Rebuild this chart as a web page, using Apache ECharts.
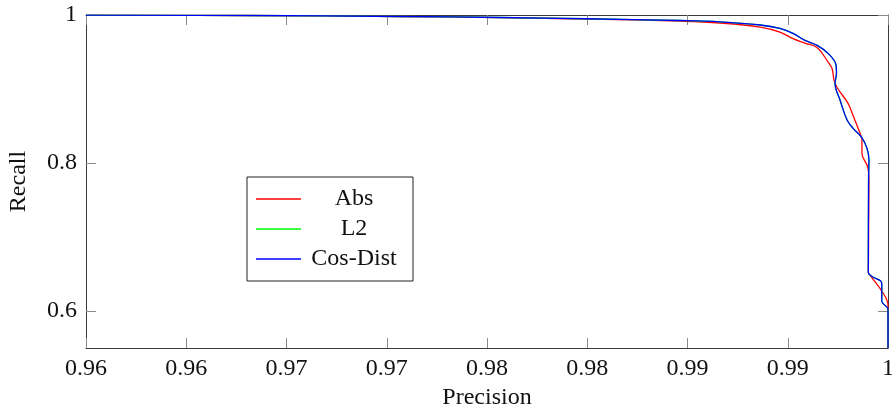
<!DOCTYPE html>
<html>
<head>
<meta charset="utf-8">
<script src="https://cdn.jsdelivr.net/npm/echarts@6/dist/echarts.min.js"></script>
<style>
  html, body { margin: 0; padding: 0; background: #fff; }
  #chart { width: 892px; height: 410px; }
</style>
</head>
<body>
<div id="chart"></div>
<script>
// Precision / recall curves for three distance measures
const seriesNames = ['Abs', 'L2', 'Cos-Dist'];
const seriesColors = ['#ff0000', '#00ff00', '#0000ff'];

const absPrecision = [0.96, 0.96818, 0.97566, 0.98065, 0.98499, 0.98963, 0.99162, 0.99362, 0.99461, 0.99526, 0.99586, 0.99646, 0.99701, 0.99721, 0.99731, 0.99746, 0.99800, 0.99825, 0.99860, 0.99870, 0.99870, 0.99900, 0.99905, 0.99902, 0.99907, 0.99969, 1.0, 1.0];
const absRecall    = [0.9998, 0.9993, 0.9980, 0.9965, 0.9945, 0.9917, 0.9892, 0.9836, 0.9768, 0.9680, 0.9620, 0.9560, 0.9365, 0.9276, 0.9118, 0.9020, 0.8809, 0.8648, 0.8405, 0.8311, 0.8136, 0.7934, 0.7773, 0.6521, 0.6494, 0.6269, 0.6077, 0.55];

const l2Precision  = [0.96, 0.96818, 0.97566, 0.98065, 0.98499, 0.98963, 0.99162, 0.99362, 0.99461, 0.99526, 0.99586, 0.99646, 0.99701, 0.99741, 0.99743, 0.99736, 0.99761, 0.99796, 0.99825, 0.99870, 0.99895, 0.99905, 0.99903, 0.99902, 0.99920, 0.99969, 0.99969, 1.0, 1.0];
const l2Recall     = [0.9998, 0.9993, 0.9980, 0.9966, 0.9949, 0.9926, 0.9908, 0.9865, 0.9818, 0.9751, 0.9657, 0.9589, 0.9482, 0.9320, 0.9213, 0.9078, 0.8849, 0.8580, 0.8472, 0.8339, 0.8201, 0.8042, 0.7773, 0.6521, 0.6467, 0.6373, 0.6131, 0.6023, 0.55];

const cosPrecision = [0.96, 0.96818, 0.97566, 0.98065, 0.98499, 0.98963, 0.99162, 0.99362, 0.99461, 0.99526, 0.99586, 0.99646, 0.99701, 0.99741, 0.99743, 0.99736, 0.99761, 0.99796, 0.99825, 0.99870, 0.99895, 0.99905, 0.99903, 0.99902, 0.99920, 0.99969, 0.99969, 1.0, 1.0];
const cosRecall    = [0.9998, 0.9993, 0.9980, 0.9966, 0.9949, 0.9926, 0.9908, 0.9865, 0.9818, 0.9751, 0.9657, 0.9589, 0.9482, 0.9320, 0.9213, 0.9078, 0.8849, 0.8580, 0.8472, 0.8339, 0.8201, 0.8042, 0.7773, 0.6521, 0.6467, 0.6373, 0.6131, 0.6023, 0.55];

const xTickValues = [0.96, 0.965, 0.97, 0.975, 0.98, 0.985, 0.99, 0.995, 1.0];
const xTickLabels = ['0.96', '0.96', '0.97', '0.97', '0.98', '0.98', '0.99', '0.99', '1'];
const yTickValues = [0.6, 0.8, 1.0];
const yTickLabels = ['0.6', '0.8', '1'];

const FONT = 'Liberation Serif';
const FRAME = '#3a3a3a';
const TICK = '#8a8a8a';

function pairs(xs, ys) {
  return xs.map((x, i) => [x, ys[i]]);
}
function labelFor(values, labels) {
  return function (v) {
    let best = 0;
    for (let i = 1; i < values.length; i++) {
      if (Math.abs(values[i] - v) < Math.abs(values[best] - v)) best = i;
    }
    return labels[best];
  };
}

const curveData = [
  pairs(absPrecision, absRecall),
  pairs(l2Precision, l2Recall),
  pairs(cosPrecision, cosRecall)
];

function xAxisDef(position, showLabels) {
  return {
    type: 'value', position: position, min: 0.96, max: 1,
    name: showLabels ? 'Precision' : '',
    nameLocation: 'middle', nameGap: 38,
    nameTextStyle: { fontFamily: FONT, fontSize: 24, color: '#111' },
    axisLine: { show: true, onZero: false, lineStyle: { color: FRAME, width: 1 } },
    axisTick: { show: true, inside: true, length: 10, customValues: xTickValues, lineStyle: { color: TICK, width: 1 } },
    axisLabel: { show: showLabels, customValues: xTickValues, margin: 9, fontFamily: FONT, fontSize: 24, color: '#111', formatter: labelFor(xTickValues, xTickLabels) },
    splitLine: { show: false }
  };
}
function yAxisDef(position, showLabels) {
  return {
    type: 'value', position: position, min: 0.55, max: 1,
    name: showLabels ? 'Recall' : '',
    nameLocation: 'middle', nameGap: 55, nameRotate: 90,
    nameTextStyle: { fontFamily: FONT, fontSize: 24, color: '#111' },
    axisLine: { show: true, onZero: false, lineStyle: { color: FRAME, width: 1 } },
    axisTick: { show: true, inside: true, length: 10, customValues: yTickValues, lineStyle: { color: TICK, width: 1 } },
    axisLabel: { show: showLabels, customValues: yTickValues, margin: 9, fontFamily: FONT, fontSize: 24, color: '#111', formatter: labelFor(yTickValues, yTickLabels) },
    splitLine: { show: false }
  };
}

const chart = echarts.init(document.getElementById('chart'), null, { renderer: 'canvas' });
chart.setOption({
  animation: false,
  backgroundColor: '#fff',
  grid: { left: 86, right: 4, top: 15, bottom: 62, containLabel: false, outerBoundsMode: 'none' },
  xAxis: [xAxisDef('bottom', true), xAxisDef('top', false)],
  yAxis: [yAxisDef('left', true), yAxisDef('right', false)],
  legend: {
    left: 247, top: 177,
    orient: 'vertical',
    data: seriesNames,
    icon: 'rect',
    itemWidth: 45, itemHeight: 1.4, itemGap: 0,
    padding: [7, 11, 7, 9],
    backgroundColor: '#fff',
    borderColor: '#222', borderWidth: 1, borderRadius: 0,
    formatter: name => '{t|' + name + '}',
    textStyle: {
      fontFamily: FONT, fontSize: 24, color: '#111',
      rich: { t: { width: 96, height: 30, lineHeight: 30, align: 'center', fontFamily: FONT, fontSize: 24, color: '#111' } }
    }
  },
  series: seriesNames.map((name, i) => ({
    name: name,
    type: 'line',
    xAxisIndex: 0, yAxisIndex: 0,
    data: curveData[i],
    smooth: 0.4,
    symbol: 'none',
    clip: true,
    color: seriesColors[i],
    lineStyle: { color: seriesColors[i], width: 1.3 },
    z: 2 + i
  }))
});
</script>
</body>
</html>
